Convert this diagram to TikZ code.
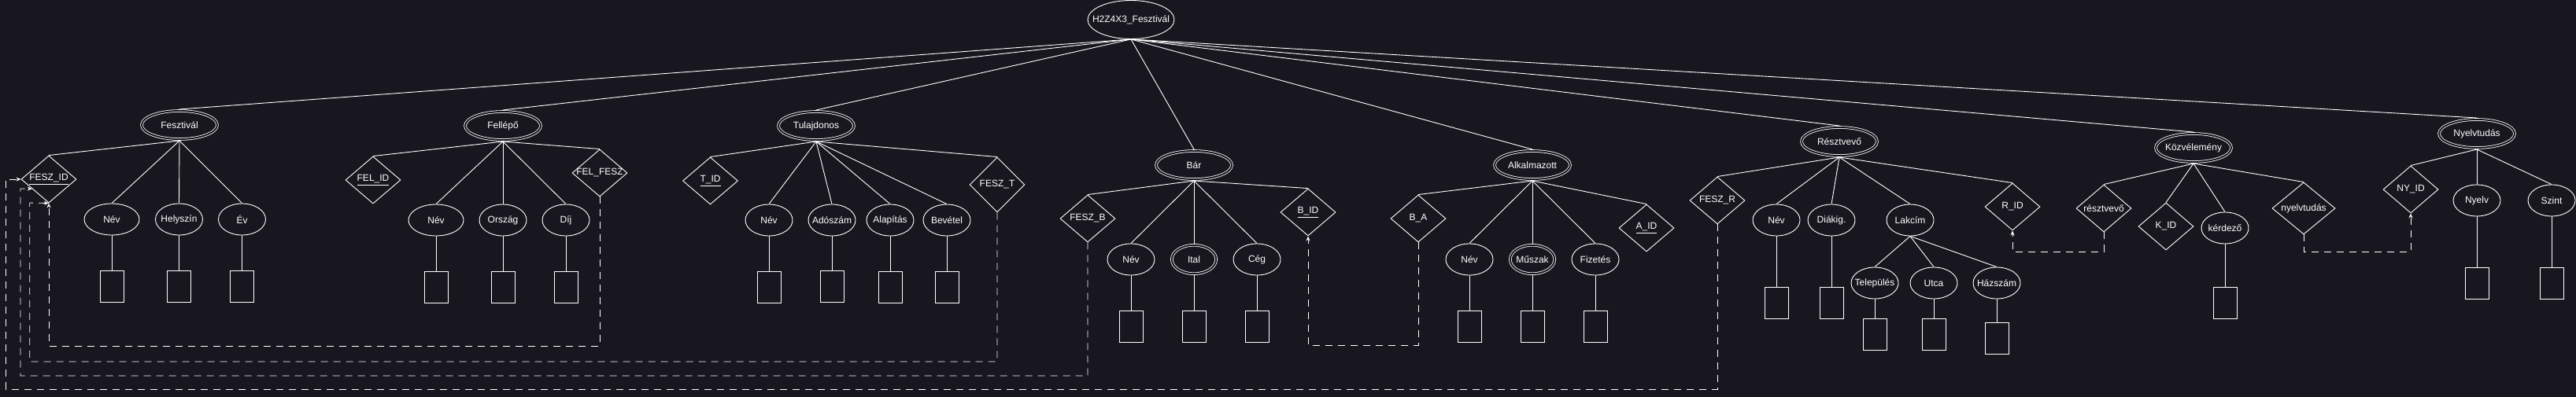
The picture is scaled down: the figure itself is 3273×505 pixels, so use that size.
\documentclass[tikz,border=0pt]{standalone}
\usepackage{fontspec}
\setmainfont{Liberation Sans}
\usetikzlibrary{shapes.geometric,arrows.meta,calc}
\definecolor{bgc}{RGB}{24,23,31}
\newcommand\zt[1]{\hbox to 0pt{\hss#1\hss}}
\begin{document}
\begin{tikzpicture}[x=1pt,y=-1pt,
  every node/.style={text=white, font=\fontsize{12}{14}\selectfont, inner sep=0pt},
  ln/.style={draw=white, line width=0.9pt},
  rootnode/.style={ellipse, draw=white, line width=0.9pt, minimum width=110pt, minimum height=49pt},
  ent/.style={ellipse, draw=white, line width=0.8pt, double=bgc, double distance=2pt, minimum width=96pt, minimum height=36pt, outer sep=2pt},
  attr/.style={ellipse, draw=white, line width=0.9pt, minimum width=60pt, minimum height=40pt},
  wattr/.style={attr, minimum width=70pt},
  mattr/.style={ellipse, draw=white, line width=0.8pt, double=bgc, double distance=2pt, minimum width=56.4pt, minimum height=36.4pt, outer sep=2pt},
  rel/.style={diamond, draw=white, line width=0.9pt, minimum width=70pt, minimum height=60pt},
  box/.style={rectangle, draw=white, line width=0.9pt, minimum width=30pt, minimum height=40pt},
  fk/.style={draw=white, line width=0.9pt, dash pattern=on 9pt off 7pt, -{Stealth[length=6pt,width=5pt]}},
]
\fill[bgc] (0,0) rectangle (3273,505);
\useasboundingbox (0,0) rectangle (3273,505);

% root
\node[rootnode] (root) at (1437,25) {\zt{H2Z4X3\_Fesztivál}};

% entities
\node[ent] (fesz) at (228,159) {\zt{Fesztivál}};
\node[ent] (fel) at (639,160) {\zt{Fellépő}};
\node[ent] (tul) at (1037,160) {\zt{Tulajdonos}};
\node[ent] (bar) at (1517,210) {\zt{Bár}};
\node[ent] (alk) at (1947,210) {\zt{Alkalmazott}};
\node[ent] (res) at (2337,180) {\zt{Résztvevő}};
\node[ent] (koz) at (2787,188) {\zt{Közvélemény}};
\node[ent] (nyt) at (3147,170) {\zt{Nyelvtudás}};

% Fesztival
\node[rel] (feszid) at (62,228) {\zt{\underline{FESZ\_ID}}};
\node[wattr] (fesznev) at (142,279) {\zt{Név}};
\node[attr] (feszhely) at (227.5,279) {\zt{Helyszín}};
\node[attr] (feszev) at (307.5,279) {\zt{Év}};
\node[box] (bfesznev) at (142,364) {};
\node[box] (bfeszhely) at (227.5,364) {};
\node[box] (bfeszev) at (307.5,364) {};

% Fellepo
\node[rel] (felid) at (474,229) {\zt{\underline{FEL\_ID}}};
\node[wattr] (felnev) at (554,280) {\zt{Név}};
\node[attr] (felorsz) at (639,280) {\zt{Ország}};
\node[attr] (feldij) at (719,280) {\zt{Díj}};
\node[rel] (felfesz) at (762,220) {\zt{FEL\_FESZ}};
\node[box] (bfelnev) at (554,365) {};
\node[box] (bfelorsz) at (639,365) {};
\node[box] (bfeldij) at (719,365) {};

% Tulajdonos
\node[rel] (tid) at (902.5,230) {\zt{\underline{T\_ID}}};
\node[attr] (tulnev) at (977,280) {\zt{Név}};
\node[attr] (tulado) at (1057,280) {\zt{Adószám}};
\node[attr] (tulalap) at (1131,280) {\zt{Alapítás}};
\node[attr] (tulbev) at (1203,280) {\zt{Bevétel}};
\node[rel, minimum height=70pt] (feszt) at (1267,235) {\zt{FESZ\_T}};
\node[box] (btulnev) at (977,365) {};
\node[box] (btulado) at (1057,364) {};
\node[box] (btulalap) at (1131,365) {};
\node[box] (btulbev) at (1203,365) {};

% Bar
\node[rel] (feszb) at (1382,278) {\zt{FESZ\_B}};
\node[attr] (barnev) at (1437,330) {\zt{Név}};
\node[mattr] (ital) at (1517,330) {\zt{Ital}};
\node[attr] (ceg) at (1597,330) {\zt{Cég}};
\node[rel] (bid) at (1662,270) {\zt{\underline{B\_ID}}};
\node[box] (bbarnev) at (1437,415) {};
\node[box] (bital) at (1517,415) {};
\node[box] (bceg) at (1597,415) {};

% Alkalmazott
\node[rel] (ba) at (1802,278) {\zt{B\_A}};
\node[attr] (alknev) at (1867,330) {\zt{Név}};
\node[mattr] (muszak) at (1947,330) {\zt{Műszak}};
\node[attr] (fiz) at (2027,330) {\zt{Fizetés}};
\node[rel] (aid) at (2092,290) {\zt{\underline{A\_ID}}};
\node[box] (balknev) at (1867,415) {};
\node[box] (bmuszak) at (1947,415) {};
\node[box] (bfiz) at (2027,415) {};

% Resztvevo
\node[rel] (feszr) at (2182,255) {\zt{FESZ\_R}};
\node[attr] (resnev) at (2257,280) {\zt{Név}};
\node[attr] (diak) at (2327,280) {\zt{Diákig.}};
\node[attr] (lak) at (2427,280) {\zt{Lakcím}};
\node[attr] (tel) at (2382,360) {\zt{Település}};
\node[attr] (utca) at (2457,360) {\zt{Utca}};
\node[attr] (hsz) at (2537,360) {\zt{Házszám}};
\node[rel] (rid) at (2557,263) {\zt{R\_ID}};
\node[box] (bresnev) at (2257,385) {};
\node[box] (bdiak) at (2327,385) {};
\node[box] (btel) at (2382,425) {};
\node[box] (butca) at (2457,425) {};
\node[box] (bhsz) at (2537,430) {};

% Kozvelemeny
\node[rel] (kres) at (2673,265) {\zt{résztvevő}};
\node[rel] (kid) at (2752,288) {\zt{K\_ID}};
\node[attr] (kerd) at (2827,290) {\zt{kérdező}};
\node[rel, minimum width=80pt, minimum height=66pt] (knyt) at (2927,265) {\zt{nyelvtudás}};
\node[box] (bkerd) at (2827,385) {};

% Nyelvtudas
\node[rel] (nyid) at (3063,241) {\zt{NY\_ID}};
\node[attr] (nyelv) at (3147,255) {\zt{Nyelv}};
\node[attr] (szint) at (3242,255) {\zt{Szint}};
\node[box] (bnyelv) at (3147,360) {};
\node[box] (bszint) at (3242,360) {};

% root edges
\foreach \c in {fesz,fel,tul,bar,alk,res,koz,nyt} \draw[ln] (root.south) -- (\c.north);

% entity edges
\foreach \c in {feszid,fesznev,feszhely,feszev} \draw[ln] (fesz.south) -- (\c.north);
\foreach \c in {felid,felnev,felorsz,feldij,felfesz} \draw[ln] (fel.south) -- (\c.north);
\foreach \c in {tid,tulnev,tulado,tulalap,tulbev,feszt} \draw[ln] (tul.south) -- (\c.north);
\foreach \c in {feszb,barnev,ital,ceg,bid} \draw[ln] (bar.south) -- (\c.north);
\foreach \c in {ba,alknev,muszak,fiz,aid} \draw[ln] (alk.south) -- (\c.north);
\foreach \c in {feszr,resnev,diak,lak,rid} \draw[ln] (res.south) -- (\c.north);
\foreach \c in {tel,utca,hsz} \draw[ln] (lak.south) -- (\c.north);
\foreach \c in {kres,kid,kerd,knyt} \draw[ln] (koz.south) -- (\c.north);
\foreach \c in {nyid,nyelv,szint} \draw[ln] (nyt.south) -- (\c.north);

% attribute to value boxes
\foreach \c in {fesznev,feszhely,feszev,felnev,felorsz,feldij,tulnev,tulado,tulalap,tulbev,barnev,ital,ceg,alknev,muszak,fiz,resnev,diak,tel,utca,hsz,kerd,nyelv,szint}
  \draw[ln] (\c.south) -- (b\c.north);

% foreign keys (dashed)
\draw[fk] (felfesz.south) -- (felfesz.south |- 0,440) -| (feszid.south);
\draw[fk] (feszt.south) -- (feszt.south |- 0,460) -| (37.7,258) -- (feszid.south);
\draw[fk] (feszb.south) -- (feszb.south |- 0,478) -| (26,240) -- ($(feszid.west)!0.4!(feszid.south)$);
\draw[fk] (feszr.south) -- (feszr.south |- 0,495) -| (7.3,228) -- (feszid.west);
\draw[fk] (ba.south) -- (ba.south |- 0,439) -| (bid.south);
\draw[fk] (kres.south) -- (kres.south |- 0,320) -| (rid.south);
\draw[fk] (knyt.south) -- (knyt.south |- 0,320) -| (nyid.south);
\end{tikzpicture}
\end{document}
